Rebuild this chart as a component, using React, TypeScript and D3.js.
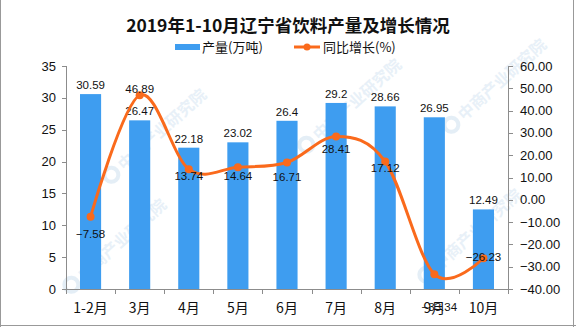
import React from "react";
import * as d3 from "d3";

const categories = ["1-2月", "3月", "4月", "5月", "6月", "7月", "8月", "9月", "10月"];
const production = [30.59, 26.47, 22.18, 23.02, 26.4, 29.2, 28.66, 26.95, 12.49];
const growth = [-7.58, 46.89, 13.74, 14.64, 16.71, 28.41, 17.12, -33.34, -26.23];
const leftTicks = [0, 5, 10, 15, 20, 25, 30, 35];
const rightTicks = [-40, -30, -20, -10, 0, 10, 20, 30, 40, 50, 60];

// layout-only label nudges for the growth labels (not data)
const growthLabelDy = [17, -6, 7, 9, 14, 13, 6, 33, -1];
const growthLabelDx = [0, 0, 0, 0, 0, 0, 0, 5, 0];

const W = 576;
const H = 327;
const left = 66;
const right = 508;
const top = 66;
const bottom = 289;

const BAR = "#3e9df0";
const LINE = "#fa6a1c";
const AXIS = "#8c8c8c";
const NUM_FONT = "'Liberation Sans', Arial, sans-serif";
const CJK_FONT = "'Noto Sans CJK SC', 'Liberation Sans', sans-serif";

const watermarks = [
  [150, 140],
  [345, 110],
  [465, 240],
  [110, 250],
  [490, 90],
];

export default function App() {
  const x = d3.scaleBand<string>().domain(categories).range([left, right]).paddingInner(0).paddingOuter(0);
  const bw = x.bandwidth();
  const barW = bw * 0.43;
  const yL = d3.scaleLinear().domain([0, 35]).range([bottom, top]);
  const yR = d3.scaleLinear().domain([-40, 60]).range([bottom, top]);

  const pts: [number, number][] = growth.map((g, i) => [x(categories[i])! + bw / 2, yR(g)]);
  const path = d3.line().curve(d3.curveCardinal.tension(0))(pts) || "";

  return (
    <svg width={W} height={H} style={{ position: "absolute", left: 0, top: 0, background: "#fff" }}>
      <rect x={0} y={0} width={W} height={H} fill="#fff" />
      {/* watermarks */}
      {watermarks.map(([wx, wy], i) => (
        <g key={"wm" + i} transform={`translate(${wx},${wy}) rotate(-42)`} opacity={0.4}>
          <circle cx={-52} cy={0} r={7} fill="none" stroke="#bcd6ea" strokeWidth={4} />
          <text x={-40} y={6} fontSize={16} fontWeight="bold" fill="#c6dcee" fontFamily={CJK_FONT}>
            中商产业研究院
          </text>
        </g>
      ))}
      {/* border */}
      <line x1={0.5} y1={0} x2={0.5} y2={H} stroke="#999" />
      <line x1={W - 2.5} y1={0} x2={W - 2.5} y2={H} stroke="#999" />
      <line x1={0} y1={H - 1.5} x2={W} y2={H - 1.5} stroke="#999" />

      {/* title */}
      <text x={288} y={32} textAnchor="middle" fontSize={17.5} fontWeight="bold" fontFamily={CJK_FONT} fill="#111">
        2019年1-10月辽宁省饮料产量及增长情况
      </text>

      {/* legend */}
      <rect x={175} y={44} width={25} height={6} fill={BAR} />
      <text x={202} y={52} fontSize={13} fontFamily={CJK_FONT} fill="#111">产量(万吨)</text>
      <line x1={294} y1={47} x2={320} y2={47} stroke={LINE} strokeWidth={3} />
      <circle cx={307} cy={47} r={3.5} fill={LINE} />
      <text x={323} y={52} fontSize={13} fontFamily={CJK_FONT} fill="#111">同比增长(%)</text>

      {/* bars */}
      {production.map((v, i) => (
        <rect
          key={"b" + i}
          x={x(categories[i])! + (bw - barW) / 2}
          y={yL(v)}
          width={barW}
          height={bottom - yL(v)}
          fill={BAR}
        />
      ))}

      {/* axes */}
      <line x1={left + 0.5} y1={top} x2={left + 0.5} y2={bottom} stroke={AXIS} />
      {leftTicks.map((t) => (
        <g key={"lt" + t}>
          <line x1={left - 4} x2={left} y1={Math.round(yL(t)) + 0.5} y2={Math.round(yL(t)) + 0.5} stroke={AXIS} />
          <text x={56} y={yL(t) + 4.5} textAnchor="end" fontSize={13} fontFamily={NUM_FONT} fill="#111">
            {t}
          </text>
        </g>
      ))}
      <line x1={right + 0.5} y1={top} x2={right + 0.5} y2={bottom} stroke={AXIS} />
      {rightTicks.map((t) => (
        <g key={"rt" + t}>
          <line x1={right} x2={right + 5} y1={Math.round(yR(t)) + 0.5} y2={Math.round(yR(t)) + 0.5} stroke={AXIS} />
          <text x={520} y={yR(t) + 4.5} textAnchor="start" fontSize={13} fontFamily={NUM_FONT} fill="#111">
            {d3.format(".2f")(t)}
          </text>
        </g>
      ))}
      <line x1={left - 4} y1={bottom + 0.5} x2={right + 5} y2={bottom + 0.5} stroke={AXIS} />
      {categories.map((c, i) => (
        <line
          key={"xt" + i}
          x1={Math.round(x(c)!) + 0.5}
          x2={Math.round(x(c)!) + 0.5}
          y1={bottom}
          y2={bottom + 5}
          stroke={AXIS}
        />
      ))}
      <line x1={right + 0.5} x2={right + 0.5} y1={bottom} y2={bottom + 5} stroke={AXIS} />
      {categories.map((c) => (
        <text key={"xl" + c} x={x(c)! + bw / 2} y={313} textAnchor="middle" fontSize={14} fontFamily={CJK_FONT} fill="#111">
          {c}
        </text>
      ))}

      {/* bar labels */}
      {production.map((v, i) => (
        <text
          key={"bl" + i}
          x={x(categories[i])! + bw / 2}
          y={yL(v) - 5}
          textAnchor="middle"
          fontSize={11.5}
          fontFamily={NUM_FONT}
          fill="#111"
        >
          {v}
        </text>
      ))}

      {/* growth line */}
      <path d={path} fill="none" stroke={LINE} strokeWidth={3} />
      {pts.map(([px, py], i) => (
        <circle key={"p" + i} cx={px} cy={py} r={4} fill={LINE} />
      ))}
      {growth.map((g, i) => (
        <text
          key={"gl" + i}
          x={pts[i][0] + growthLabelDx[i]}
          y={pts[i][1] + growthLabelDy[i] + 4}
          textAnchor="middle"
          fontSize={11.5}
          fontFamily={NUM_FONT}
          fill="#111"
        >
          {d3.format(".2f")(g)}
        </text>
      ))}
    </svg>
  );
}
